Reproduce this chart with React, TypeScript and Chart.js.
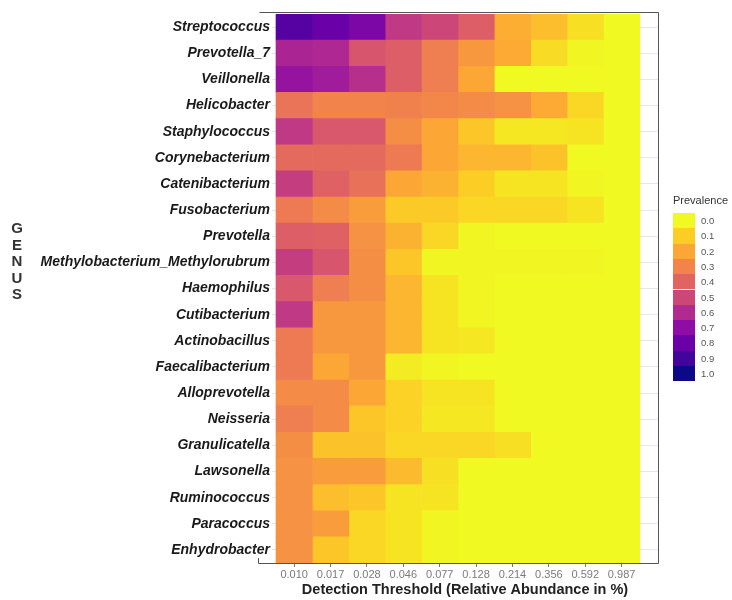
import React, { useEffect, useRef } from "react";
import { Chart, registerables } from "chart.js";

Chart.register(...registerables);

// Genera, top to bottom
const genera = [
  "Streptococcus",
  "Prevotella_7",
  "Veillonella",
  "Helicobacter",
  "Staphylococcus",
  "Corynebacterium",
  "Catenibacterium",
  "Fusobacterium",
  "Prevotella",
  "Methylobacterium_Methylorubrum",
  "Haemophilus",
  "Cutibacterium",
  "Actinobacillus",
  "Faecalibacterium",
  "Alloprevotella",
  "Neisseria",
  "Granulicatella",
  "Lawsonella",
  "Ruminococcus",
  "Paracoccus",
  "Enhydrobacter",
];

// Detection thresholds (relative abundance, %)
const thresholds = ["0.010", "0.017", "0.028", "0.046", "0.077", "0.128", "0.214", "0.356", "0.592", "0.987"];

// Prevalence per genus at each threshold (one array per threshold, genera in order above)
const t010 = [0.85, 0.62, 0.68, 0.35, 0.55, 0.38, 0.53, 0.33, 0.42, 0.53, 0.44, 0.55, 0.33, 0.33, 0.28, 0.32, 0.27, 0.26, 0.26, 0.26, 0.26];
const t017 = [0.8, 0.61, 0.65, 0.3, 0.44, 0.38, 0.41, 0.28, 0.41, 0.45, 0.32, 0.24, 0.24, 0.2, 0.28, 0.28, 0.13, 0.23, 0.14, 0.23, 0.12];
const t028 = [0.75, 0.45, 0.58, 0.3, 0.44, 0.38, 0.36, 0.23, 0.26, 0.27, 0.27, 0.24, 0.24, 0.24, 0.2, 0.12, 0.13, 0.23, 0.12, 0.08, 0.08];
const t046 = [0.55, 0.42, 0.42, 0.31, 0.27, 0.33, 0.2, 0.11, 0.17, 0.12, 0.16, 0.16, 0.16, 0.03, 0.09, 0.09, 0.08, 0.15, 0.05, 0.05, 0.05];
const t077 = [0.5, 0.32, 0.32, 0.29, 0.2, 0.2, 0.17, 0.11, 0.08, 0.01, 0.05, 0.05, 0.05, 0.01, 0.05, 0.04, 0.08, 0.06, 0.05, 0.01, 0.01];
const t128 = [0.42, 0.24, 0.2, 0.28, 0.12, 0.16, 0.1, 0.08, 0.01, 0.01, 0.01, 0.01, 0.04, 0.0, 0.05, 0.04, 0.08, 0.0, 0.0, 0.0, 0.0];
const t214 = [0.18, 0.19, 0.0, 0.26, 0.04, 0.16, 0.05, 0.08, 0.0, 0.01, 0.0, 0.0, 0.0, 0.0, 0.0, 0.0, 0.06, 0.0, 0.0, 0.0, 0.0];
const t356 = [0.14, 0.07, 0.0, 0.19, 0.04, 0.13, 0.05, 0.08, 0.0, 0.01, 0.0, 0.0, 0.0, 0.0, 0.0, 0.0, 0.0, 0.0, 0.0, 0.0, 0.0];
const t592 = [0.06, 0.01, 0.0, 0.08, 0.05, 0.0, 0.01, 0.05, 0.0, 0.01, 0.0, 0.0, 0.0, 0.0, 0.0, 0.0, 0.0, 0.0, 0.0, 0.0, 0.0];
const t987 = [0.0, 0.0, 0.0, 0.0, 0.0, 0.0, 0.0, 0.0, 0.0, 0.0, 0.0, 0.0, 0.0, 0.0, 0.0, 0.0, 0.0, 0.0, 0.0, 0.0, 0.0];

const columns = [t010, t017, t028, t046, t077, t128, t214, t356, t592, t987];

// Colour bar steps
const legendValues = [0.0, 0.1, 0.2, 0.3, 0.4, 0.5, 0.6, 0.7, 0.8, 0.9, 1.0];

// Plasma colormap stops (0 → dark blue, 1 → yellow)
const PLASMA = [
  "#0d0887", "#41049d", "#6a00a8", "#8f0da4", "#b12a90",
  "#cc4778", "#e16462", "#f2844b", "#fca636", "#fcce25", "#f0f921",
];

function hexToRgb(h: string): number[] {
  return [parseInt(h.slice(1, 3), 16), parseInt(h.slice(3, 5), 16), parseInt(h.slice(5, 7), 16)];
}

function plasma(t: number): string {
  const x = Math.max(0, Math.min(1, t)) * (PLASMA.length - 1);
  const i = Math.min(PLASMA.length - 2, Math.floor(x));
  const f = x - i;
  const a = hexToRgb(PLASMA[i]);
  const b = hexToRgb(PLASMA[i + 1]);
  const c = a.map((v, k) => Math.round(v + (b[k] - v) * f));
  return `rgb(${c[0]},${c[1]},${c[2]})`;
}

// High prevalence is dark, zero prevalence is yellow
const prevalenceColor = (p: number) => plasma(1 - p);

const FONT = '"Liberation Sans", Arial, sans-serif';

// Panel frame: extends a little left of the tile area, like a padded plot panel
const PANEL_EXTRA_LEFT = 14;

const panelBorder = {
  id: "panelBorder",
  afterDraw(chart: any) {
    const { ctx, chartArea } = chart;
    const { left, right, top, bottom } = chartArea;
    const x0 = left - PANEL_EXTRA_LEFT + 0.5;
    ctx.save();
    ctx.strokeStyle = "#555";
    ctx.lineWidth = 1;
    ctx.beginPath();
    ctx.moveTo(x0 + 1, top - 1.5);
    ctx.lineTo(right + 0.5, top - 1.5);
    ctx.lineTo(right + 0.5, bottom + 0.5);
    ctx.lineTo(x0, bottom + 0.5);
    ctx.lineTo(x0, bottom - 5);
    ctx.stroke();
    ctx.restore();
  },
};

export default function App() {
  const canvasRef = useRef<HTMLCanvasElement | null>(null);

  useEffect(() => {
    if (!canvasRef.current) return;
    const datasets = columns.map((col, j) => ({
      label: thresholds[j],
      data: col.map(() => [j, j + 1]),
      backgroundColor: col.map((p) => prevalenceColor(p)),
      borderWidth: 0,
      grouped: false,
      barPercentage: 1,
      categoryPercentage: 1,
    }));

    const chart = new Chart(canvasRef.current, {
      type: "bar",
      data: { labels: genera, datasets: datasets as any },
      plugins: [panelBorder],
      options: {
        indexAxis: "y",
        responsive: false,
        animation: false,
        layout: { padding: { top: 14, right: 74, bottom: 1, left: 0 } },
        plugins: { legend: { display: false }, tooltip: { enabled: false } },
        scales: {
          x: {
            type: "linear",
            min: -0.11,
            max: 10.5,
            afterBuildTicks: (s: any) => {
              s.ticks = thresholds.map((_, i) => ({ value: i + 0.5 }));
            },
            afterFit: (s: any) => {
              s.height = 36;
            },
            ticks: {
              callback: (_v: any, i: number) => thresholds[i],
              color: "#7a7a7a",
              font: { family: FONT, size: 11 },
              padding: 1,
              maxRotation: 0,
              autoSkip: false,
            },
            grid: { drawOnChartArea: false, drawTicks: true, tickLength: 4, tickColor: "#777" },
            border: { display: false },
            title: {
              display: true,
              text: "Detection Threshold (Relative Abundance in %)",
              color: "#222",
              font: { family: FONT, size: 14.5, weight: "bold" },
              padding: { top: 0, bottom: 0 },
            },
          },
          y: {
            type: "category",
            offset: true,
            afterFit: (s: any) => {
              s.width = 272;
            },
            grid: { offset: false, color: "#e6e6e6", lineWidth: 1, drawTicks: false },
            border: { display: false },
            ticks: {
              padding: 2,
              autoSkip: false,
              color: "#1a1a1a",
              font: { family: FONT, size: 14, weight: "bold", style: "italic" },
            },
          },
        },
      } as any,
    });
    return () => chart.destroy();
  }, []);

  const genus = ["G", "E", "N", "U", "S"];

  return (
    <div style={{ position: "fixed", left: 0, top: 0, width: 732, height: 600, background: "#fff", fontFamily: FONT }}>
      <canvas ref={canvasRef} width={732} height={600} style={{ position: "absolute", left: 0, top: 0 }} />
      <div style={{ position: "absolute", left: 7, top: 220, width: 20, textAlign: "center", fontWeight: "bold", fontSize: 15, lineHeight: "16.5px", color: "#333" }}>
        {genus.map((c, i) => (
          <div key={i}>{c}</div>
        ))}
      </div>
      <div style={{ position: "absolute", left: 673, top: 194, fontSize: 11, color: "#333", whiteSpace: "nowrap" }}>Prevalence</div>
      {legendValues.map((v, i) => (
        <div key={"b" + i} style={{ position: "absolute", left: 673, top: 213 + i * 15.3, width: 22, height: 15.3, background: prevalenceColor(v) }} />
      ))}
      {legendValues.map((v, i) => (
        <div key={"l" + i} style={{ position: "absolute", left: 701, top: 213 + i * 15.3, height: 15.3, lineHeight: "15.3px", fontSize: 9.5, color: "#555" }}>
          {v.toFixed(1)}
        </div>
      ))}
    </div>
  );
}
